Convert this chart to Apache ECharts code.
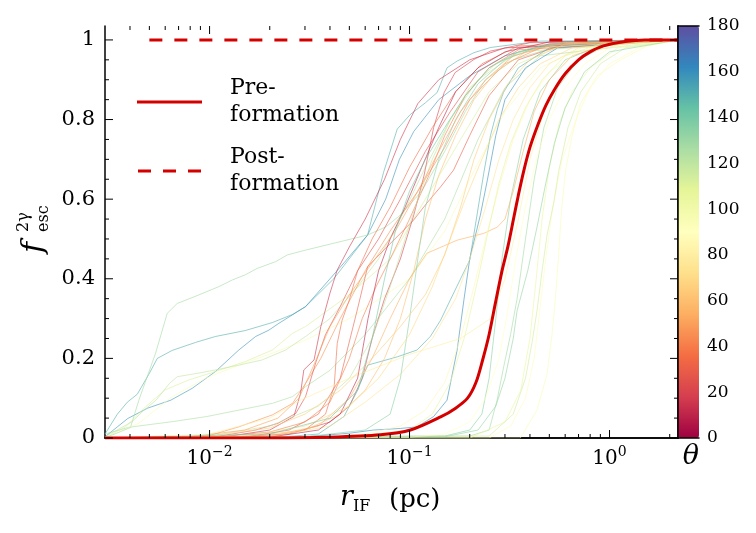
<!DOCTYPE html>
<html>
<head>
<meta charset="utf-8">
<script src="https://cdn.jsdelivr.net/npm/echarts@6/dist/echarts.min.js"></script>
<style>
  html, body { margin: 0; padding: 0; background: #fff; }
  #chart { width: 756px; height: 533px; }
</style>
</head>
<body>
<div id="chart"></div>
<script>
// Axis ranges
const X_MIN = 0.003, X_MAX = 2.2, Y_MAX = 1.035;
const SERIF = 'DejaVu Serif';

// viewing angle of each thin curve (deg), same order as linePoints
const lineThetas = [150, 158, 128, 112, 95, 120, 125, 45, 25, 20, 30, 128, 135, 95, 88, 105, 115, 132, 150, 160,
    15, 35, 55, 80, 75, 85, 60, 40, 10, 120, 135, 70, 50, 108, 90, 65, 140];

// [r_IF (pc), f_esc]
const linePoints = [
    [[0.003,0.01],[0.00346,0.06],[0.00388,0.09],[0.00435,0.11],[0.00497,0.16],[0.00548,0.2],[0.0065,0.22],[0.0085,0.24],[0.0107,0.255],[0.0151,0.27],[0.0206,0.29],[0.0259,0.31],[0.0302,0.33],[0.0418,0.4],[0.0617,0.51],[0.0741,0.667],[0.0868,0.776],[0.101,0.813],[0.12,0.842],[0.1375,0.868],[0.154,0.93],[0.173,0.947],[0.21,0.968],[0.254,0.981],[0.45,0.997],[2.2,1]],
    [[0.003,0.003],[0.00346,0.028],[0.0039,0.049],[0.0049,0.075],[0.0064,0.095],[0.0082,0.125],[0.0107,0.167],[0.014,0.221],[0.017,0.255],[0.0198,0.271],[0.0222,0.288],[0.0302,0.33],[0.047,0.44],[0.0617,0.51],[0.076,0.6],[0.089,0.7],[0.105,0.77],[0.14,0.85],[0.2,0.91],[0.3,0.96],[0.5,0.99],[2.2,1]],
    [[0.003,0.01],[0.00403,0.028],[0.00443,0.095],[0.00537,0.213],[0.00614,0.313],[0.00689,0.338],[0.0088,0.359],[0.0111,0.38],[0.013,0.397],[0.0151,0.41],[0.0173,0.426],[0.0214,0.443],[0.0245,0.46],[0.0302,0.472],[0.0617,0.51],[0.0759,0.53],[0.09,0.56],[0.115,0.62],[0.15,0.72],[0.19,0.82],[0.24,0.9],[0.33,0.95],[0.6,0.99],[2.2,1]],
    [[0.003,0],[0.0038,0.028],[0.0048,0.079],[0.006,0.121],[0.0079,0.146],[0.0107,0.167],[0.0151,0.192],[0.0206,0.221],[0.026,0.263],[0.0302,0.28],[0.05,0.36],[0.08,0.45],[0.12,0.6],[0.18,0.75],[0.25,0.87],[0.35,0.94],[0.6,0.99],[2.2,1]],
    [[0.003,0],[0.00443,0.037],[0.0065,0.104],[0.00955,0.15],[0.014,0.183],[0.0206,0.213],[0.0302,0.246],[0.05,0.3],[0.1,0.4],[0.15,0.52],[0.2,0.65],[0.3,0.82],[0.45,0.93],[0.8,0.99],[2.2,1]],
    [[0.003,0.003],[0.0041,0.041],[0.0047,0.07],[0.0054,0.095],[0.0063,0.137],[0.0069,0.154],[0.0088,0.163],[0.0107,0.171],[0.014,0.183],[0.0183,0.196],[0.024,0.221],[0.0302,0.255],[0.04,0.3],[0.055,0.38],[0.07,0.45],[0.09,0.55],[0.12,0.68],[0.16,0.8],[0.22,0.9],[0.35,0.97],[2.2,1]],
    [[0.003,0],[0.0041,0.028],[0.0065,0.041],[0.0097,0.054],[0.014,0.07],[0.0206,0.087],[0.026,0.104],[0.0302,0.129],[0.04,0.17],[0.06,0.26],[0.1,0.4],[0.15,0.55],[0.22,0.75],[0.3,0.88],[0.45,0.96],[2.2,1]],
    [[0.003,0],[0.0095,0.003],[0.014,0.028],[0.0206,0.058],[0.026,0.087],[0.0302,0.137],[0.036,0.2],[0.045,0.3],[0.06,0.42],[0.08,0.52],[0.11,0.62],[0.15,0.73],[0.2,0.85],[0.3,0.94],[0.5,0.99],[2.2,1]],
    [[0.003,0],[0.0107,0.003],[0.017,0.02],[0.022,0.037],[0.027,0.062],[0.0302,0.104],[0.034,0.19],[0.038,0.26],[0.045,0.33],[0.055,0.42],[0.07,0.5],[0.09,0.6],[0.12,0.72],[0.16,0.82],[0.22,0.92],[0.35,0.98],[2.2,1]],
    [[0.003,0],[0.01,0],[0.025,0.01],[0.04,0.04],[0.05,0.08],[0.058,0.15],[0.065,0.25],[0.075,0.35],[0.09,0.45],[0.105,0.56],[0.118,0.658],[0.132,0.78],[0.149,0.868],[0.169,0.918],[0.21,0.951],[0.254,0.972],[0.4,0.993],[2.2,1]],
    [[0.003,0],[0.015,0.002],[0.025,0.02],[0.035,0.06],[0.045,0.15],[0.0548,0.322],[0.0617,0.43],[0.0743,0.472],[0.09,0.514],[0.105,0.548],[0.122,0.59],[0.143,0.631],[0.166,0.673],[0.2,0.76],[0.25,0.86],[0.35,0.95],[0.6,0.99],[2.2,1]],
    [[0.003,0],[0.2,0.005],[0.25,0.02],[0.274,0.095],[0.296,0.18],[0.32,0.26],[0.345,0.35],[0.38,0.5],[0.42,0.65],[0.47,0.78],[0.55,0.88],[0.7,0.95],[1,0.99],[2.2,1]],
    [[0.003,0],[0.15,0.005],[0.2,0.02],[0.23,0.06],[0.25,0.15],[0.27,0.3],[0.29,0.45],[0.32,0.6],[0.37,0.75],[0.45,0.87],[0.6,0.95],[1,0.995],[2.2,1]],
    [[0.003,0],[0.358,0],[0.434,0.07],[0.487,0.16],[0.516,0.26],[0.536,0.35],[0.555,0.45],[0.575,0.57],[0.602,0.67],[0.65,0.76],[0.716,0.84],[0.868,0.91],[1.135,0.95],[1.544,0.985],[2.2,1]],
    [[0.003,0],[0.25,0],[0.32,0.03],[0.38,0.1],[0.42,0.2],[0.45,0.33],[0.48,0.45],[0.52,0.58],[0.58,0.7],[0.68,0.8],[0.8,0.88],[1,0.94],[1.4,0.98],[2.2,1]],
    [[0.003,0],[0.2,0],[0.3,0.04],[0.36,0.12],[0.4,0.25],[0.43,0.4],[0.46,0.55],[0.5,0.68],[0.56,0.79],[0.65,0.87],[0.8,0.93],[1.1,0.98],[2.2,1]],
    [[0.003,0],[0.25,0.005],[0.33,0.06],[0.38,0.15],[0.41,0.24],[0.434,0.32],[0.46,0.42],[0.487,0.51],[0.526,0.59],[0.557,0.67],[0.62,0.78],[0.72,0.87],[0.9,0.94],[1.2,0.98],[2.2,1]],
    [[0.003,0],[0.15,0.003],[0.22,0.02],[0.27,0.08],[0.3,0.15],[0.33,0.25],[0.345,0.32],[0.39,0.42],[0.434,0.53],[0.48,0.64],[0.53,0.74],[0.6,0.83],[0.75,0.92],[1,0.97],[2.2,1]],
    [[0.003,0],[0.02,0],[0.035,0.01],[0.047,0.054],[0.055,0.12],[0.0617,0.183],[0.087,0.204],[0.109,0.221],[0.127,0.255],[0.143,0.296],[0.16,0.347],[0.18,0.4],[0.2,0.447],[0.235,0.665],[0.254,0.76],[0.275,0.826],[0.295,0.868],[0.35,0.93],[0.5,0.98],[2.2,1]],
    [[0.003,0],[0.03,0.003],[0.05,0.012],[0.066,0.02],[0.09,0.024],[0.109,0.028],[0.132,0.054],[0.154,0.095],[0.173,0.221],[0.187,0.347],[0.2,0.45],[0.226,0.56],[0.245,0.648],[0.27,0.76],[0.3,0.85],[0.38,0.93],[0.55,0.98],[2.2,1]],
    [[0.003,0],[0.012,0.003],[0.02,0.02],[0.0264,0.054],[0.0285,0.112],[0.0296,0.171],[0.0333,0.196],[0.036,0.28],[0.04,0.364],[0.0435,0.422],[0.05,0.48],[0.06,0.55],[0.075,0.65],[0.09,0.75],[0.11,0.84],[0.14,0.9],[0.2,0.95],[0.3,0.98],[2.2,1]],
    [[0.003,0],[0.02,0.003],[0.03,0.02],[0.038,0.06],[0.042,0.13],[0.0435,0.238],[0.046,0.296],[0.05,0.347],[0.055,0.42],[0.065,0.5],[0.08,0.58],[0.1,0.68],[0.13,0.78],[0.17,0.87],[0.23,0.94],[0.35,0.985],[2.2,1]],
    [[0.003,0],[0.02,0.005],[0.035,0.03],[0.05,0.1],[0.065,0.2],[0.08,0.3],[0.1,0.4],[0.122,0.464],[0.173,0.497],[0.235,0.514],[0.275,0.53],[0.3,0.55],[0.33,0.62],[0.37,0.72],[0.42,0.82],[0.5,0.9],[0.65,0.96],[1,0.99],[2.2,1]],
    [[0.003,0],[0.01,0.01],[0.02,0.05],[0.0285,0.095],[0.05,0.15],[0.1,0.21],[0.18,0.25],[0.254,0.3],[0.3,0.4],[0.35,0.55],[0.4,0.7],[0.47,0.82],[0.6,0.92],[0.8,0.97],[1.3,0.995],[2.2,1]],
    [[0.003,0],[0.02,0.003],[0.04,0.03],[0.06,0.09],[0.09,0.16],[0.13,0.25],[0.17,0.35],[0.2,0.45],[0.24,0.58],[0.28,0.7],[0.33,0.8],[0.4,0.88],[0.5,0.94],[0.7,0.98],[2.2,1]],
    [[0.003,0],[0.03,0],[0.06,0.01],[0.09,0.03],[0.12,0.07],[0.15,0.14],[0.18,0.25],[0.21,0.38],[0.24,0.5],[0.28,0.63],[0.33,0.75],[0.4,0.85],[0.5,0.92],[0.7,0.97],[1.1,0.995],[2.2,1]],
    [[0.003,0],[0.015,0.003],[0.03,0.02],[0.045,0.06],[0.06,0.12],[0.075,0.2],[0.09,0.3],[0.105,0.42],[0.12,0.55],[0.14,0.66],[0.17,0.76],[0.21,0.85],[0.27,0.92],[0.38,0.97],[0.6,0.995],[2.2,1]],
    [[0.003,0],[0.01,0.002],[0.02,0.015],[0.03,0.04],[0.04,0.09],[0.05,0.2],[0.058,0.3],[0.068,0.38],[0.08,0.45],[0.1,0.55],[0.125,0.66],[0.15,0.76],[0.19,0.86],[0.25,0.93],[0.35,0.975],[2.2,1]],
    [[0.003,0],[0.02,0.002],[0.035,0.02],[0.045,0.06],[0.055,0.15],[0.062,0.3],[0.07,0.42],[0.08,0.5],[0.095,0.58],[0.115,0.68],[0.14,0.78],[0.17,0.87],[0.22,0.93],[0.3,0.97],[0.5,0.995],[2.2,1]],
    [[0.003,0],[0.01,0.005],[0.02,0.03],[0.035,0.08],[0.05,0.15],[0.065,0.25],[0.08,0.38],[0.095,0.5],[0.11,0.6],[0.13,0.7],[0.16,0.8],[0.2,0.88],[0.27,0.94],[0.4,0.98],[2.2,1]],
    [[0.003,0],[0.03,0.003],[0.06,0.02],[0.08,0.06],[0.09,0.15],[0.1,0.3],[0.11,0.45],[0.12,0.58],[0.14,0.7],[0.17,0.8],[0.22,0.89],[0.3,0.95],[0.45,0.985],[2.2,1]],
    [[0.003,0],[0.015,0.005],[0.03,0.03],[0.05,0.08],[0.07,0.15],[0.1,0.26],[0.13,0.38],[0.16,0.5],[0.19,0.6],[0.23,0.7],[0.28,0.8],[0.35,0.88],[0.45,0.94],[0.65,0.98],[2.2,1]],
    [[0.003,0],[0.008,0.003],[0.015,0.02],[0.022,0.05],[0.028,0.1],[0.033,0.18],[0.04,0.28],[0.05,0.36],[0.065,0.44],[0.085,0.52],[0.11,0.62],[0.14,0.72],[0.18,0.82],[0.24,0.9],[0.33,0.96],[0.55,0.99],[2.2,1]],
    [[0.003,0],[0.05,0.003],[0.1,0.02],[0.13,0.06],[0.16,0.14],[0.19,0.26],[0.22,0.4],[0.25,0.53],[0.28,0.64],[0.32,0.74],[0.38,0.83],[0.46,0.9],[0.6,0.96],[0.9,0.99],[2.2,1]],
    [[0.003,0],[0.1,0.002],[0.15,0.01],[0.2,0.04],[0.24,0.1],[0.28,0.2],[0.31,0.32],[0.34,0.45],[0.38,0.58],[0.43,0.7],[0.5,0.8],[0.6,0.88],[0.75,0.94],[1,0.98],[2.2,1]],
    [[0.003,0],[0.01,0.005],[0.02,0.025],[0.03,0.06],[0.045,0.12],[0.065,0.2],[0.09,0.28],[0.12,0.36],[0.15,0.46],[0.18,0.58],[0.21,0.7],[0.25,0.8],[0.31,0.89],[0.4,0.95],[0.6,0.99],[2.2,1]],
    [[0.003,0],[0.02,0.01],[0.04,0.05],[0.055,0.12],[0.065,0.25],[0.075,0.4],[0.085,0.52],[0.1,0.62],[0.12,0.7],[0.15,0.78],[0.19,0.86],[0.25,0.93],[0.35,0.97],[0.6,0.995],[2.2,1]]
];

// thick red curves
const preFormation = [[0.003,0],[0.02,0],[0.04,0.002],[0.0716,0.008],[0.101,0.02],[0.143,0.053],[0.17,0.075],[0.195,0.1],[0.215,0.14],[0.232,0.196],[0.25,0.26],[0.269,0.34],[0.29,0.42],[0.31,0.48],[0.331,0.55],[0.35,0.61],[0.372,0.67],[0.4,0.73],[0.437,0.785],[0.48,0.835],[0.53,0.875],[0.6,0.915],[0.7,0.95],[0.8,0.97],[0.933,0.985],[1.2,0.996],[1.5,1],[2.2,1]];
const postFormation = [[0.005,1],[2.2,1]];

// matplotlib "Spectral"
const spectral = ['#9e0142', '#d53e4f', '#f46d43', '#fdae61', '#fee08b', '#ffffbf',
    '#e6f598', '#abdda4', '#66c2a5', '#3288bd', '#5e4fa2'];

function hexRgb(h) {
    return [parseInt(h.slice(1, 3), 16), parseInt(h.slice(3, 5), 16), parseInt(h.slice(5, 7), 16)];
}
function spectralColor(theta) {
    const t = Math.max(0, Math.min(1, theta / 180)) * (spectral.length - 1);
    const i = Math.min(Math.floor(t), spectral.length - 2);
    const f = t - i;
    const a = hexRgb(spectral[i]), b = hexRgb(spectral[i + 1]);
    const c = a.map((v, k) => Math.round(v + (b[k] - v) * f));
    return `rgb(${c[0]},${c[1]},${c[2]})`;
}

// tick positions (drawn inward on all four sides)
const xMajorTicks = [0.01, 0.1, 1];
const xMinorTicks = [];
for (let e = -3; e <= 0; e++) {
    for (let m = 2; m <= 9; m++) {
        const v = m * Math.pow(10, e);
        if (v > X_MIN && v < X_MAX) xMinorTicks.push(v);
    }
}
const yTicks = [];
for (let i = 0; i <= 20; i++) yTicks.push(+(i * 0.05).toFixed(2));

const chart = echarts.init(document.getElementById('chart'));

const axisLine = { show: true, lineStyle: { color: '#000', width: 1.5 } };
const supMinus = n => (n < 0 ? '\u2212' + Math.abs(n) : String(n));
const tickStyle = { stroke: '#000', lineWidth: 1 };

const series = [];
linePoints.forEach((pts, i) => {
    series.push({
        type: 'line', data: pts, symbol: 'none', silent: true,
        lineStyle: { color: spectralColor(lineThetas[i]), width: 1, opacity: 0.6 },
        z: 2
    });
});
series.push({
    name: 'Pre-\nformation', type: 'line', data: preFormation, symbol: 'none', smooth: 0.3,
    lineStyle: { color: '#d40000', width: 3 }, itemStyle: { color: '#d40000' }, z: 4
});
series.push({
    name: 'Post-\nformation', type: 'line', data: postFormation, symbol: 'none',
    lineStyle: { color: '#d40000', width: 3, type: [13, 12] }, itemStyle: { color: '#d40000' }, z: 4
});
// x ticks (bottom and top)
series.push({
    type: 'custom', silent: true, z: 6,
    data: xMajorTicks.map(v => [v, 0, 8]).concat(xMinorTicks.map(v => [v, 0, 4])),
    renderItem: (params, api) => {
        const x = api.coord([api.value(0), 0])[0];
        const len = api.value(2);
        const cs = params.coordSys;
        return {
            type: 'group', children: [
                { type: 'line', shape: { x1: x, y1: cs.y + cs.height, x2: x, y2: cs.y + cs.height - len }, style: tickStyle },
                { type: 'line', shape: { x1: x, y1: cs.y, x2: x, y2: cs.y + len }, style: tickStyle }
            ]
        };
    }
});
// y ticks (left and right)
series.push({
    type: 'custom', silent: true, z: 6,
    data: yTicks.map((v, i) => [X_MIN, v, i % 4 === 0 ? 8 : 4]),
    renderItem: (params, api) => {
        const y = api.coord([X_MIN, api.value(1)])[1];
        const len = api.value(2);
        const cs = params.coordSys;
        return {
            type: 'group', children: [
                { type: 'line', shape: { x1: cs.x, y1: y, x2: cs.x + len, y2: y }, style: tickStyle },
                { type: 'line', shape: { x1: cs.x + cs.width, y1: y, x2: cs.x + cs.width - len, y2: y }, style: tickStyle }
            ]
        };
    }
});
// dummy series that the colour bar is attached to
const dummyIndex = series.length;
series.push({ type: 'line', xAxisIndex: 2, yAxisIndex: 2, data: [] });

const option = {
    animation: false,
    textStyle: { fontFamily: SERIF, color: '#000' },
    grid: [
        { left: 105, top: 26, width: 573, height: 412 },
        { left: 678, top: 26, width: 21, height: 412 }
    ],
    xAxis: [
        {
            type: 'log', logBase: 10, min: X_MIN, max: X_MAX, gridIndex: 0, position: 'bottom',
            axisLine: axisLine, splitLine: { show: false }, axisTick: { show: false },
            axisLabel: {
                showMinLabel: false, showMaxLabel: false, margin: 7, fontFamily: SERIF,
                formatter: v => `{b|10}{s|${supMinus(Math.round(Math.log10(v)))}}`,
                rich: {
                    b: { fontFamily: SERIF, fontSize: 20, color: '#000', lineHeight: 28 },
                    s: { fontFamily: SERIF, fontSize: 14, color: '#000', verticalAlign: 'top' }
                }
            }
        },
        {
            type: 'log', logBase: 10, min: X_MIN, max: X_MAX, gridIndex: 0, position: 'top',
            axisLine: axisLine, splitLine: { show: false }, axisTick: { show: false },
            axisLabel: { show: false }
        },
        { type: 'value', gridIndex: 1, min: 0, max: 1, position: 'bottom', axisLine: axisLine, axisTick: { show: false }, axisLabel: { show: false }, splitLine: { show: false }, z: 10 },
        { type: 'value', gridIndex: 1, min: 0, max: 1, position: 'top', axisLine: axisLine, axisTick: { show: false }, axisLabel: { show: false }, splitLine: { show: false }, z: 10 }
    ],
    yAxis: [
        {
            type: 'value', min: 0, max: Y_MAX, interval: 0.2, gridIndex: 0, position: 'left',
            axisLine: axisLine, splitLine: { show: false }, axisTick: { show: false },
            axisLabel: { showMaxLabel: false, margin: 10, fontFamily: SERIF, fontSize: 21, color: '#000' }
        },
        {
            type: 'value', min: 0, max: Y_MAX, interval: 0.2, gridIndex: 0, position: 'right',
            axisLine: axisLine, splitLine: { show: false }, axisTick: { show: false },
            axisLabel: { show: false }
        },
        {
            type: 'value', min: 0, max: 180, interval: 20, gridIndex: 1, position: 'right',
            axisLine: axisLine, axisTick: { show: false }, splitLine: { show: false }, z: 10,
            axisLabel: { margin: 8, fontFamily: SERIF, fontSize: 17, color: '#000' }
        }
    ],
    visualMap: {
        type: 'continuous', min: 0, max: 180, seriesIndex: dummyIndex,
        orient: 'vertical', left: 678, top: 26, itemWidth: 21, itemHeight: 412,
        padding: 0, calculable: false, hoverLink: false, z: 1,
        inRange: { color: spectral }
    },
    legend: {
        data: [
            { name: 'Pre-\nformation', icon: 'path://M0,0H65V3H0Z' },
            { name: 'Post-\nformation', icon: 'path://M0,0H13V3H0Z M25,0H38V3H25Z M50,0H63V3H50Z' }
        ],
        orient: 'vertical', left: 137, top: 75, padding: 0,
        itemWidth: 65, itemHeight: 3, itemGap: 15, selectedMode: false,
        textStyle: { fontFamily: SERIF, fontSize: 22, lineHeight: 27, color: '#000', padding: [0, 0, 0, 23] }
    },
    graphic: [
        {
            type: 'group', x: 34, y: 253, rotation: Math.PI / 2,
            children: [
                { type: 'text', x: 0, y: 0, style: { text: 'f', font: 'italic 30px "DejaVu Serif"', fill: '#000', verticalAlign: 'middle' } },
                { type: 'text', x: 21, y: -10, style: { text: '2γ', font: '16px "DejaVu Serif"', fill: '#000', verticalAlign: 'middle' } },
                { type: 'text', x: 21, y: 10, style: { text: 'esc', font: '16px "DejaVu Serif"', fill: '#000', verticalAlign: 'middle' } }
            ]
        },
        { type: 'text', x: 340, y: 498, style: { text: 'r', font: 'italic 27px "DejaVu Serif"', fill: '#000', verticalAlign: 'middle' } },
        { type: 'text', x: 353, y: 507, style: { text: 'IF', font: '16px "DejaVu Serif"', fill: '#000', verticalAlign: 'middle' } },
        { type: 'text', x: 389, y: 500, style: { text: '(pc)', font: '26px "DejaVu Serif"', fill: '#000', verticalAlign: 'middle' } },
        { type: 'text', x: 691, y: 457, style: { text: 'θ', font: 'italic 27px "DejaVu Serif"', fill: '#000', align: 'center', verticalAlign: 'middle' } }
    ],
    series: series
};

chart.setOption(option);
</script>
</body>
</html>
